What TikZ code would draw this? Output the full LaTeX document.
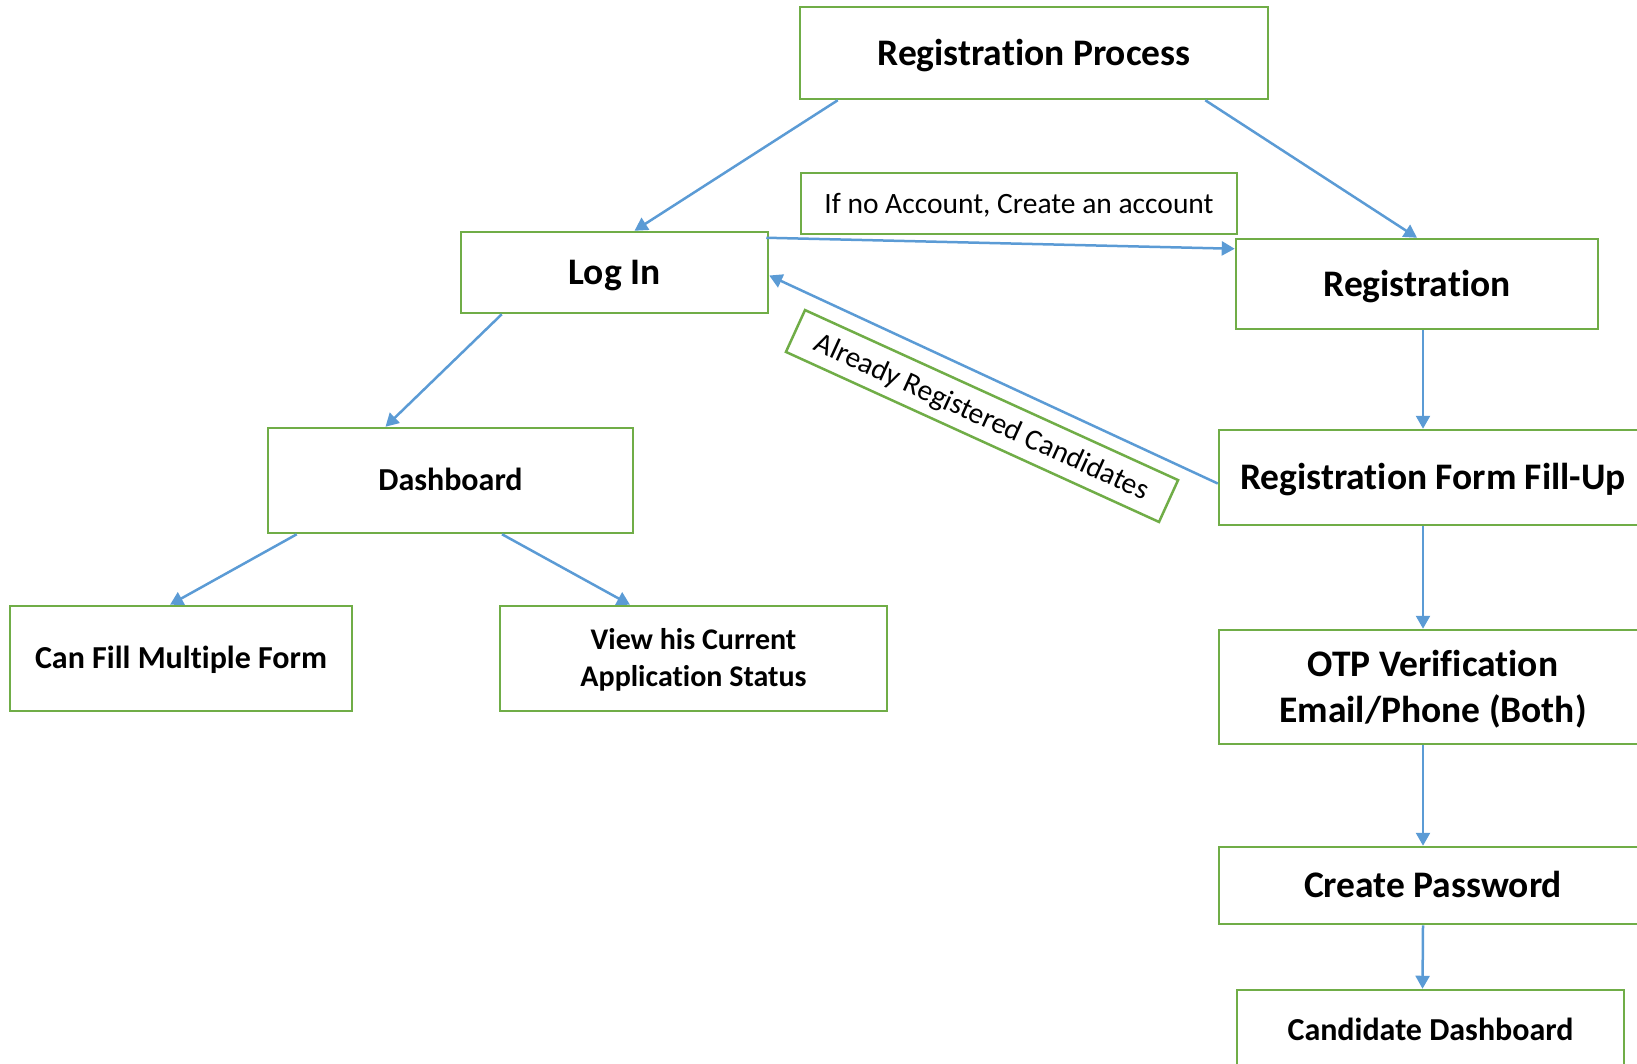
\documentclass[tikz,border=0pt]{standalone}
\usepackage{fontspec}
\setmainfont{Carlito}[Ligatures=NoCommon]
\usetikzlibrary{arrows.meta}
\definecolor{boxgreen}{HTML}{70AD47}
\definecolor{flowblue}{HTML}{5B9BD5}

\begin{document}
\begin{tikzpicture}[
    x=1pt, y=-1pt,
    >={Triangle[length=13pt, width=14pt]},
    box/.style={
        rectangle, draw=boxgreen, line width=2.5pt, fill=white,
        align=center, inner sep=0pt, text depth=0pt
    },
    mainbox/.style={box, font=\fontsize{37.5}{46}\selectfont\bfseries, text height=24.2pt},
    subbox/.style={box, font=\fontsize{32}{38}\selectfont\bfseries, text height=20.6pt},
    notebox/.style={box, font=\fontsize{29.5}{35}\selectfont, text height=19pt},
    flowline/.style={->, line width=2.5pt, draw=flowblue},
]
\clip (0,0) rectangle (1637,1063);

% ── Top and login branch ─────────────────────────────────────
\node[mainbox, minimum width=468pt, minimum height=92pt]  (regproc) at (1034, 53)    {Registration Process};
\node[mainbox, minimum width=307pt, minimum height=81pt]  (login)   at (614.5, 272.5) {Log In};
\node[notebox, minimum width=436pt, minimum height=61pt]  (noacc)   at (1019, 203.5) {If no Account, Create an account};
\node[subbox,  minimum width=365pt, minimum height=105pt] (dash)    at (450.5, 480.5) {Dashboard};
\node[subbox,  minimum width=342pt, minimum height=105pt] (multi)   at (181, 658.5)  {Can Fill Multiple Form};
\node[subbox,  minimum width=387pt, minimum height=105pt,
      font=\fontsize{30}{37}\selectfont\bfseries, text height=56.3pt] (status) at (693.5, 658.5) {View his Current\\Application Status};

% ── Registration branch ──────────────────────────────────────
\node[mainbox, minimum width=362pt, minimum height=90pt]  (reg)     at (1417, 284)   {Registration};
\node[mainbox, minimum width=428pt, minimum height=95pt]  (regform) at (1433, 477.5) {Registration Form Fill-Up};
\node[mainbox, minimum width=428pt, minimum height=114pt, text height=70pt] (otp) at (1433, 687) {OTP Verification\\Email/Phone (Both)};
\node[mainbox, minimum width=428pt, minimum height=77pt]  (passwd)  at (1433, 885.5) {Create Password};
\node[subbox,  minimum width=387pt, minimum height=80pt]  (cdash)   at (1430.5, 1030) {Candidate Dashboard};

% rotated label
\node[notebox, minimum width=410pt, minimum height=46pt, rotate=-24.5] (already) at (982, 416) {Already Registered Candidates};

% ── Connectors ───────────────────────────────────────────────
\draw[flowline] ([xshift=39pt]regproc.south west) -- ([xshift=20pt]login.north);
\draw[flowline] ([xshift=-64pt]regproc.south east) -- (reg.north);
\draw[flowline] ([xshift=-3pt, yshift=-7pt]login.north east) -- ([yshift=-11pt]reg.north west);
\draw[flowline] ([yshift=-6pt]regform.west) -- ([yshift=-3pt]login.east);
\draw[flowline] ([xshift=42pt]login.south west) -- ([xshift=-65pt]dash.north);
\draw[flowline] ([xshift=30pt]dash.south west) -- ([xshift=-11pt]multi.north);
\draw[flowline] ([xshift=51.5pt]dash.south) -- ([xshift=-63.5pt]status.north);

\draw[flowline] ([xshift=6pt]reg.south) -- ([xshift=-10pt]regform.north);
\draw[flowline] ([xshift=-10pt]regform.south) -- ([xshift=-10pt]otp.north);
\draw[flowline] ([xshift=-10pt]otp.south) -- ([xshift=-10pt]passwd.north);
\draw[flowline] ([xshift=-10pt]passwd.south) -- ([xshift=-8pt]cdash.north);

\end{tikzpicture}
\end{document}
